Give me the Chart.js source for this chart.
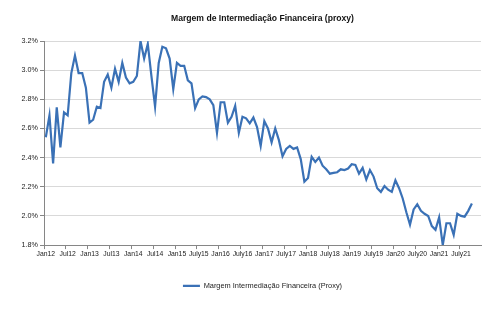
<!DOCTYPE html>
<html>
<head>
<meta charset="utf-8">
<script src="https://cdn.jsdelivr.net/npm/chart.js@4.4.1/dist/chart.umd.min.js"></script>
<style>
  html, body { margin: 0; padding: 0; background: #fff; }
  #wrap { width: 500px; height: 325px; }
</style>
</head>
<body>
<div id="wrap"><canvas id="margemChart" width="500" height="325"></canvas></div>
<script>
// monthly series Jan12 .. Oct21 (in %)
const margem = [
  2.54, 2.69, 2.36, 2.745, 2.47, 2.71, 2.69, 2.98, 3.10, 2.98, 2.98, 2.88,
  2.64, 2.66, 2.75, 2.74, 2.92, 2.97, 2.88, 3.01, 2.92, 3.05, 2.95, 2.91,
  2.92, 2.96, 3.20, 3.08, 3.18, 2.96, 2.75, 3.05, 3.16, 3.15, 3.08, 2.87,
  3.05, 3.03, 3.03, 2.93, 2.91, 2.74, 2.80, 2.82, 2.815, 2.80, 2.76, 2.57,
  2.78, 2.78, 2.64, 2.68, 2.755, 2.57, 2.68, 2.67, 2.635, 2.675, 2.61, 2.48,
  2.65, 2.60, 2.505, 2.60, 2.52, 2.41, 2.46, 2.48, 2.46, 2.47, 2.39, 2.235,
  2.26, 2.405, 2.37, 2.40, 2.345, 2.32, 2.29, 2.295, 2.30, 2.32, 2.315, 2.325,
  2.355, 2.35, 2.29, 2.33, 2.25, 2.315, 2.27, 2.19, 2.165, 2.205, 2.18, 2.165,
  2.245, 2.19, 2.12, 2.025, 1.94, 2.045, 2.08, 2.035, 2.015, 2.00, 1.93, 1.905,
  1.99, 1.80, 1.95, 1.95, 1.87, 2.015, 2.00, 1.995, 2.035, 2.085
];

// one label every six months
const tickLabels = [
  'Jan12', 'Jul12', 'Jan13', 'Jul13', 'Jan14', 'Jul14', 'Jan15', 'July15',
  'Jan16', 'July16', 'Jan17', 'July17', 'Jan18', 'July18', 'Jan19', 'July19',
  'Jan20', 'July20', 'Jan21', 'July21'
];

const yTicks = [1.8, 2.0, 2.2, 2.4, 2.6, 2.8, 3.0, 3.2];

// category axis runs Jan12 .. Dec21 (120 months)
const monthNames = ['Jan', 'Feb', 'Mar', 'Apr', 'May', 'Jun', 'Jul', 'Aug', 'Sep', 'Oct', 'Nov', 'Dec'];
const months = [];
for (let y = 12; y <= 21; y++) {
  monthNames.forEach(m => months.push(m + y));
}

const FONT = "'Liberation Sans', Arial, sans-serif";
const AXIS = '#868686';
const GRID = '#D9D9D9';

new Chart(document.getElementById('margemChart'), {
  type: 'line',
  data: {
    labels: months,
    datasets: [{
      label: 'Margem Intermediação Financeira (Proxy)',
      data: margem,
      borderColor: '#3A71B6',
      backgroundColor: '#3A71B6',
      borderWidth: 2.2,
      pointRadius: 0,
      tension: 0
    }]
  },
  options: {
    responsive: false,
    animation: false,
    layout: { padding: { left: 0, right: 19, top: 0, bottom: 25.5 } },
    scales: {
      x: {
        offset: true,
        grid: {
          offset: true,
          drawOnChartArea: false,
          tickLength: 4,
          tickColor: ctx => (ctx.index % 6 === 0 ? AXIS : 'rgba(0,0,0,0)')
        },
        border: { color: AXIS, width: 1 },
        ticks: {
          autoSkip: false,
          maxRotation: 0,
          padding: 1,
          color: '#222',
          font: { family: FONT, size: 6.8 },
          callback: (v, i) => (i % 6 === 0 ? tickLabels[i / 6] : '')
        },
        afterFit: s => { s.height = 20; }
      },
      y: {
        min: yTicks[0],
        max: yTicks[yTicks.length - 1],
        afterBuildTicks: s => { s.ticks = yTicks.map(v => ({ value: v })); },
        grid: { color: GRID, lineWidth: 1, tickLength: 4, tickColor: AXIS },
        border: { color: AXIS, width: 1 },
        ticks: {
          padding: 2,
          color: '#222',
          font: { family: FONT, size: 7.2 },
          callback: v => v.toFixed(1) + '%'
        },
        afterFit: s => { s.width = 44; }
      }
    },
    plugins: {
      title: {
        display: true,
        fullSize: false,
        text: 'Margem de Intermediação Financeira (proxy)',
        color: '#111',
        font: { family: FONT, size: 8.6, weight: 'bold' },
        padding: { top: 13.8, bottom: 16.9 }
      },
      legend: {
        position: 'bottom',
        fullSize: false,
        labels: {
          usePointStyle: true,
          pointStyle: 'line',
          pointStyleWidth: 17,
          padding: 17,
          color: '#222',
          font: { family: FONT, size: 7.4 }
        }
      },
      tooltip: { enabled: false }
    }
  }
});
</script>
</body>
</html>
